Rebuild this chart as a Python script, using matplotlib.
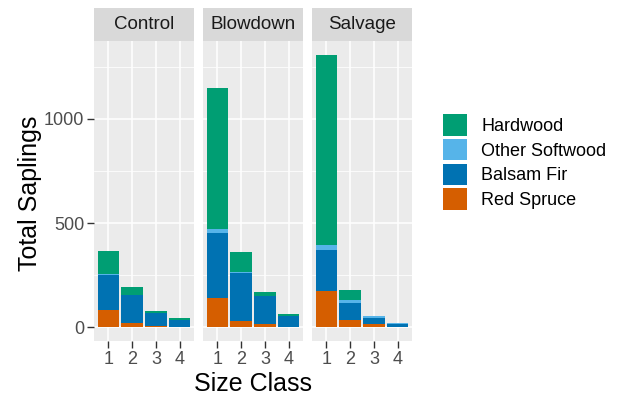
import matplotlib
matplotlib.use("Agg")
import matplotlib.pyplot as plt
from matplotlib.patches import Patch

plt.rcParams["font.family"] = ["Liberation Sans", "DejaVu Sans"]

treatments = ["Control", "Blowdown", "Salvage"]
size_classes = ["1", "2", "3", "4"]
species = ["Red Spruce", "Balsam Fir", "Other Softwood", "Hardwood"]
colors = {"Red Spruce": "#D55E00", "Balsam Fir": "#0072B2",
          "Other Softwood": "#56B4E9", "Hardwood": "#009E73"}

# counts per treatment, size class 1..4
red_spruce = {"Control": [83, 19, 5, 2], "Blowdown": [139, 29, 16, 2], "Salvage": [176, 37, 16, 2]}
balsam_fir = {"Control": [168, 138, 64, 33], "Blowdown": [315, 230, 136, 54], "Salvage": [195, 78, 29, 15]}
other_softwood = {"Control": [3, 0, 0, 0], "Blowdown": [16, 5, 0, 0], "Salvage": [24, 18, 8, 1]}
hardwood = {"Control": [111, 35, 11, 8], "Blowdown": [676, 99, 19, 8], "Salvage": [912, 46, 3, 3]}
data = {"Red Spruce": red_spruce, "Balsam Fir": balsam_fir,
        "Other Softwood": other_softwood, "Hardwood": hardwood}

fig = plt.figure(figsize=(6.34, 3.96), dpi=100)
W, H = 634, 396
lefts = [94, 203, 312]
pw = 100
top, bot = 41, 341

for i, t in enumerate(treatments):
    ax = fig.add_axes([lefts[i] / W, 1 - bot / H, pw / W, (bot - top) / H])
    ax.set_facecolor("#EBEBEB")
    x = [1, 2, 3, 4]
    base = [0, 0, 0, 0]
    for sp in species:
        vals = data[sp][t]
        ax.bar(x, vals, bottom=base, width=0.9, color=colors[sp], linewidth=0, zorder=3)
        base = [b + v for b, v in zip(base, vals)]
    ax.set_xlim(0.4, 4.6)
    ax.set_ylim(-66, 1373)
    ax.set_yticks([0, 500, 1000])
    ax.set_yticks([250, 750, 1250], minor=True)
    ax.set_xticks(x)
    ax.set_xticklabels(size_classes)
    ax.grid(True, which="major", color="white", linewidth=1.1, zorder=0)
    ax.grid(True, which="minor", axis="y", color="white", linewidth=0.55, zorder=0)
    for s in ax.spines.values():
        s.set_visible(False)
    ax.tick_params(axis="both", which="major", length=5, width=1, color="#333333",
                   labelcolor="#4D4D4D", labelsize=13, pad=2)
    ax.tick_params(axis="y", which="minor", length=0)
    if i > 0:
        ax.tick_params(axis="y", which="major", left=False, labelleft=False)
    # facet strip
    sax = fig.add_axes([lefts[i] / W, 1 - top / H, pw / W, 33 / H])
    sax.set_facecolor("#D9D9D9")
    sax.set_xticks([])
    sax.set_yticks([])
    for s in sax.spines.values():
        s.set_visible(False)
    sax.text(0.5, 0.5, t, ha="center", va="center", fontsize=13.5, color="#1A1A1A",
             transform=sax.transAxes)

fig.text(253 / W, 1 - 384 / H, "Size Class", ha="center", va="center", fontsize=18)
fig.text(30 / W, 1 - 193 / H, "Total Saplings", ha="center", va="center",
         fontsize=18, rotation=90)

handles = [Patch(facecolor=colors[sp], edgecolor="none") for sp in species[::-1]]
fig.legend(handles, species[::-1], loc="upper left", bbox_to_anchor=(427 / W, 1 - 98 / H),
           frameon=False, fontsize=13, handlelength=1.3, handleheight=1.45,
           labelspacing=0.18, handletextpad=0.8)

fig.savefig("out.png", dpi=100)
